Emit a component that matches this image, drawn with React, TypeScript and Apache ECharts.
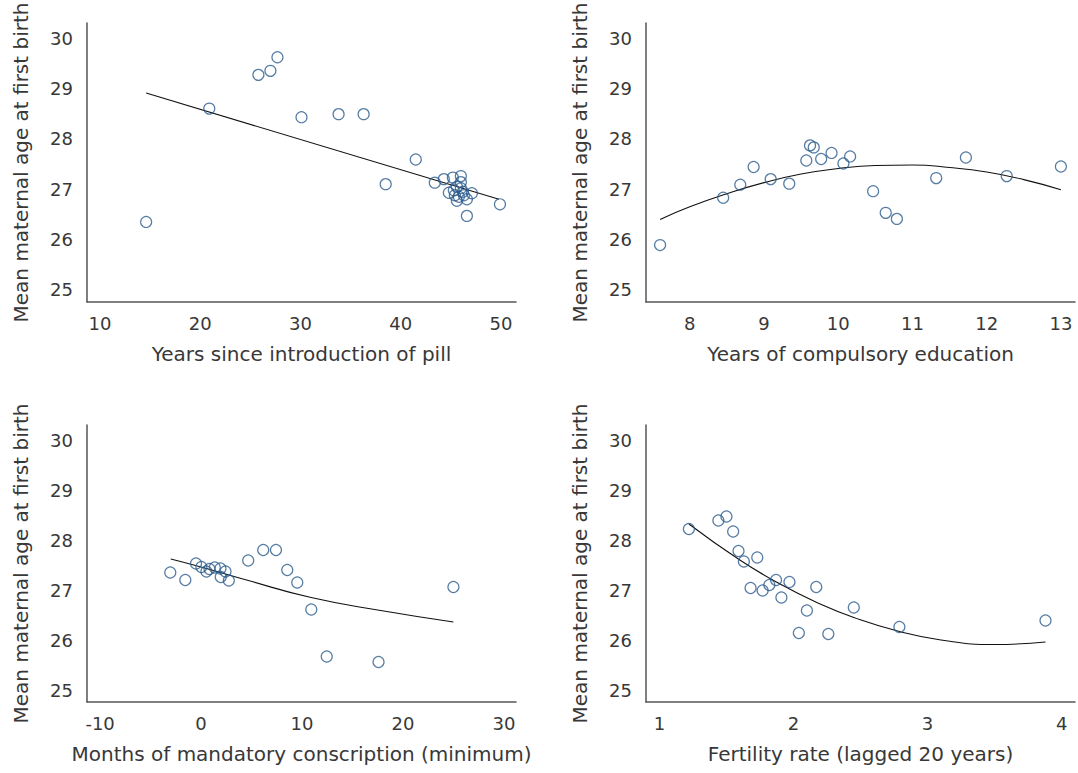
import React, { useEffect, useRef } from "react";
import * as echarts from "echarts";

// Panel 1: Years since introduction of pill
const pillX = [14.6, 20.9, 25.8, 27.0, 27.7, 30.1, 33.8, 36.3, 41.5, 38.5, 43.4, 44.3, 45.2, 46.0, 46.0, 44.8, 45.3, 45.6, 46.0, 45.4, 45.8, 46.3, 47.1, 45.6, 46.6, 46.2, 46.6, 49.9];
const pillY = [26.35, 28.6, 29.27, 29.35, 29.62, 28.43, 28.49, 28.49, 27.59, 27.1, 27.13, 27.2, 27.23, 27.26, 27.14, 26.93, 26.98, 27.05, 27.02, 26.88, 26.85, 26.88, 26.92, 26.77, 26.8, 26.95, 26.47, 26.7];
const pillFitX = [14.6, 49.8];
const pillFitY = [28.91, 26.8];

// Panel 2: Years of compulsory education
const eduX = [7.6, 8.45, 8.68, 8.86, 9.09, 9.34, 9.57, 9.62, 9.67, 9.77, 9.91, 10.07, 10.16, 10.47, 10.64, 10.79, 11.32, 11.72, 12.27, 13.0];
const eduY = [25.89, 26.83, 27.09, 27.44, 27.2, 27.11, 27.57, 27.87, 27.83, 27.6, 27.72, 27.51, 27.65, 26.96, 26.53, 26.41, 27.22, 27.63, 27.26, 27.45];
const eduFitX = [7.6, 8.0, 8.5, 9.0, 9.5, 10.0, 10.5, 11.0, 11.5, 12.0, 12.5, 13.0];
const eduFitY = [26.4, 26.65, 26.91, 27.13, 27.3, 27.41, 27.47, 27.48, 27.43, 27.34, 27.19, 26.99];

// Panel 3: Months of mandatory conscription (minimum)
const consX = [-3.05, -1.56, -0.5, 0.03, 0.53, 0.83, 1.36, 1.92, 2.42, 1.95, 2.75, 4.67, 6.16, 7.42, 8.54, 9.53, 10.92, 12.45, 17.58, 25.0];
const consY = [27.35, 27.2, 27.53, 27.46, 27.37, 27.42, 27.45, 27.43, 27.37, 27.26, 27.19, 27.59, 27.8, 27.8, 27.4, 27.15, 26.61, 25.67, 25.56, 27.06];
const consFitX = [-3.0, 0, 4.5, 10.9, 17.8, 25.0];
const consFitY = [27.62, 27.46, 27.2, 26.85, 26.59, 26.36];

// Panel 4: Fertility rate (lagged 20 years)
const fertX = [1.22, 1.44, 1.5, 1.55, 1.59, 1.63, 1.73, 1.68, 1.77, 1.82, 1.87, 1.91, 1.97, 2.1, 2.17, 2.04, 2.26, 2.45, 2.79, 3.88];
const fertY = [28.22, 28.39, 28.47, 28.17, 27.78, 27.57, 27.65, 27.04, 26.99, 27.1, 27.2, 26.85, 27.16, 26.59, 27.06, 26.14, 26.12, 26.65, 26.26, 26.39];
const fertFitX = [1.22, 1.6, 1.9, 2.2, 2.45, 2.79, 3.1, 3.5, 3.88];
const fertFitY = [28.32, 27.6, 27.12, 26.72, 26.45, 26.17, 26.0, 25.91, 25.96];

const yTicks = [25, 26, 27, 28, 29, 30];
const pillTicks = [10, 20, 30, 40, 50];
const eduTicks = [8, 9, 10, 11, 12, 13];
const consTicks = [-10, 0, 10, 20, 30];
const fertTicks = [1, 2, 3, 4];

const yName = "Mean maternal age at first birth";
const xNames = [
  "Years since introduction of pill",
  "Years of compulsory education",
  "Months of mandatory conscription (minimum)",
  "Fertility rate (lagged 20 years)",
];

const FONT = "'DejaVu Sans', 'Open Sans', sans-serif";
const TEXT = "#383838";

const zip = (xs: number[], ys: number[]) => xs.map((x, i) => [x, ys[i]]);

export default function App() {
  const ref = useRef<HTMLDivElement>(null);
  useEffect(() => {
    if (!ref.current) return;
    const chart = echarts.init(ref.current, null, { renderer: "svg" });
    const grids = [
      { left: 87, top: 23, width: 429, height: 279 },
      { left: 646, top: 23, width: 429, height: 279 },
      { left: 87, top: 425, width: 429, height: 277 },
      { left: 646, top: 425, width: 429, height: 277 },
    ];
    const xRanges = [
      [8.7, 51.5, pillTicks],
      [7.41, 13.19, eduTicks],
      [-11.3, 31.2, consTicks],
      [0.9, 4.1, fertTicks],
    ] as [number, number, number[]][];
    const axisLine = { show: true, onZero: false, lineStyle: { color: "#555", width: 1.5 } };
    const labelStyle = { color: TEXT, fontSize: 18, fontFamily: FONT, fontWeight: "normal" };
    const nameStyle = { color: TEXT, fontSize: 20, fontFamily: FONT, fontWeight: "normal" };
    const xAxis = xRanges.map(([min, max, ticks], i) => ({
      type: "value",
      gridIndex: i,
      min,
      max,
      name: xNames[i],
      nameLocation: "middle",
      nameGap: 42,
      nameTextStyle: nameStyle,
      axisLine,
      axisTick: { show: false },
      splitLine: { show: false },
      axisLabel: { ...labelStyle, margin: 12, customValues: ticks, showMinLabel: true, showMaxLabel: true },
    }));
    const yAxis = [0, 1, 2, 3].map((i) => ({
      type: "value",
      gridIndex: i,
      min: 24.76,
      max: 30.3,
      name: yName,
      nameLocation: "middle",
      nameGap: 56,
      nameTextStyle: nameStyle,
      axisLine,
      axisTick: { show: false },
      splitLine: { show: false },
      axisLabel: { ...labelStyle, margin: 14, customValues: yTicks },
    }));
    const pts = [zip(pillX, pillY), zip(eduX, eduY), zip(consX, consY), zip(fertX, fertY)];
    const fits = [zip(pillFitX, pillFitY), zip(eduFitX, eduFitY), zip(consFitX, consFitY), zip(fertFitX, fertFitY)];
    const series: any[] = [];
    for (let i = 0; i < 4; i++) {
      series.push({
        type: "line",
        xAxisIndex: i,
        yAxisIndex: i,
        data: fits[i],
        showSymbol: false,
        smooth: i === 0 ? false : 0.5,
        lineStyle: { color: "#111", width: 1.1 },
        z: 2,
      });
      series.push({
        type: "scatter",
        xAxisIndex: i,
        yAxisIndex: i,
        data: pts[i],
        symbol: "circle",
        symbolSize: 11,
        itemStyle: { color: "rgba(0,0,0,0)", borderColor: "#2c5b8c", borderWidth: 1.2 },
        z: 3,
      });
    }
    chart.setOption({
      animation: false,
      backgroundColor: "#fff",
      grid: grids,
      xAxis,
      yAxis,
      series,
    });
    return () => chart.dispose();
  }, []);
  return (
    <div
      ref={ref}
      style={{ position: "fixed", left: 0, top: 0, width: 1078, height: 773 }}
    />
  );
}
